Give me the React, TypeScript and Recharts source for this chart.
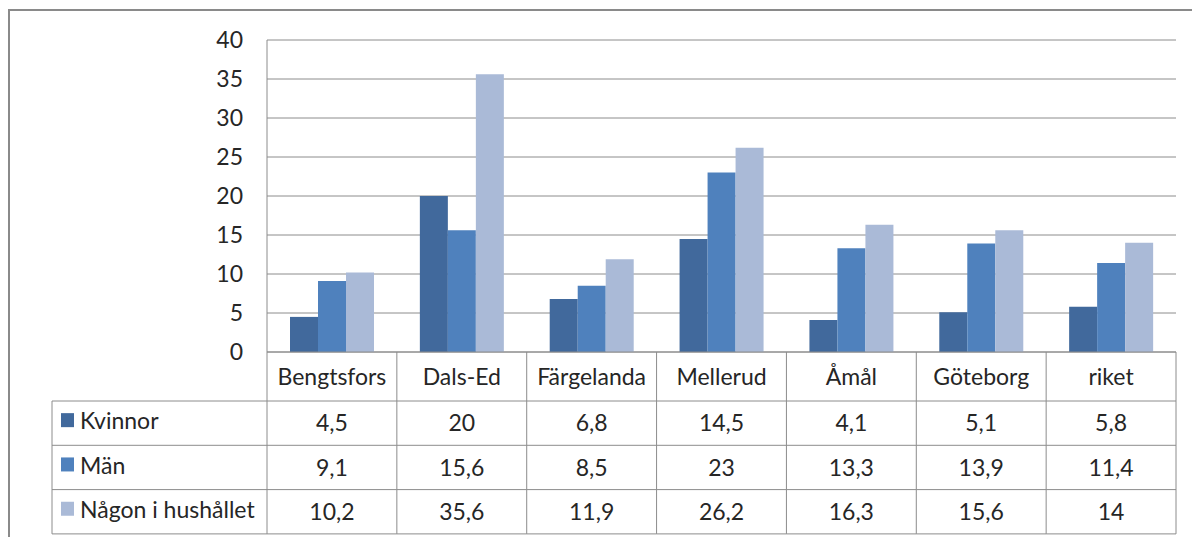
import React from 'react';
import { BarChart, Bar, XAxis, YAxis, CartesianGrid } from 'recharts';

const categories = ['Bengtsfors', 'Dals-Ed', 'Färgelanda', 'Mellerud', 'Åmål', 'Göteborg', 'riket'];
const kvinnor = [4.5, 20, 6.8, 14.5, 4.1, 5.1, 5.8];
const man = [9.1, 15.6, 8.5, 23, 13.3, 13.9, 11.4];
const nagon = [10.2, 35.6, 11.9, 26.2, 16.3, 15.6, 14];
const yTicks = [0, 5, 10, 15, 20, 25, 30, 35, 40];

const series = [
  { key: 'kvinnor', name: 'Kvinnor', color: '#41699c', values: kvinnor },
  { key: 'man', name: 'Män', color: '#4f81bd', values: man },
  { key: 'nagon', name: 'Någon i hushållet', color: '#aabad7', values: nagon },
];

const data = categories.map((c, i) => ({
  name: c,
  kvinnor: kvinnor[i],
  man: man[i],
  nagon: nagon[i],
}));

const CHART_W = 1192;
const CHART_H = 537;
const MARGIN = { top: 40, right: 16, left: 0, bottom: 0 };
const Y_AXIS_W = 267;
const X_AXIS_H = 185;
const PLOT_W = CHART_W - MARGIN.right - Y_AXIS_W;
const HEADER_H = 49;
const ROW_H = 44.3;
const LEGEND_X = 52;
const LINE = '#8c8c8c';
const TEXT = '#262626';
const FONT = 23;

const fmt = (v: number) => String(v).replace('.', ',');

const TableTick = (props: any) => {
  const { x, y, payload, index } = props;
  const cw = PLOT_W / categories.length;
  const left = x - cw / 2;
  const right = x + cw / 2;
  const bottom = y + HEADER_H + ROW_H * series.length;

  return (
    <g>
      <text x={x} y={y + HEADER_H / 2} dy="0.35em" textAnchor="middle" fill={TEXT} fontSize={FONT}>
        {payload.value}
      </text>
      {series.map((s, r) => {
        const top = y + HEADER_H + ROW_H * r;
        return (
          <g key={s.key}>
            <line x1={left} x2={right} y1={top} y2={top} stroke={LINE} />
            <text x={x} y={top + ROW_H / 2} dy="0.35em" textAnchor="middle" fill={TEXT} fontSize={FONT}>
              {fmt(s.values[index])}
            </text>
          </g>
        );
      })}
      <line x1={left} x2={right} y1={bottom} y2={bottom} stroke={LINE} />
      <line x1={right} x2={right} y1={y} y2={bottom} stroke={LINE} />
      {index === 0 && (
        <g>
          <line x1={left} x2={left} y1={y} y2={bottom} stroke={LINE} />
          <line x1={LEGEND_X} x2={LEGEND_X} y1={y + HEADER_H} y2={bottom} stroke={LINE} />
          {series.map((s, r) => {
            const top = y + HEADER_H + ROW_H * r;
            const mid = top + ROW_H / 2;
            return (
              <g key={s.key}>
                <line x1={LEGEND_X} x2={left} y1={top} y2={top} stroke={LINE} />
                <rect x={LEGEND_X + 9} y={mid - 10} width={13} height={14} fill={s.color} />
                <text x={LEGEND_X + 28} y={mid - 2} dy="0.35em" fill={TEXT} fontSize={FONT}>
                  {s.name}
                </text>
              </g>
            );
          })}
          <line x1={LEGEND_X} x2={left} y1={bottom} y2={bottom} stroke={LINE} />
        </g>
      )}
    </g>
  );
};

export default function App() {
  return (
    <div style={{ position: 'absolute', left: 0, top: 0, width: CHART_W, height: CHART_H, background: '#fff', overflow: 'hidden', fontFamily: 'Lato, sans-serif' }}>
      <div
        style={{
          position: 'absolute',
          left: 8,
          top: 9,
          width: 1400,
          height: 800,
          borderLeft: '2px solid #8a8a8a',
          borderTop: '2px solid #8a8a8a',
        }}
      />
      <div style={{ position: 'absolute', left: 0, top: 0 }}>
        <BarChart width={CHART_W} height={CHART_H} data={data} margin={MARGIN} barGap={0} barSize={28}>
          <CartesianGrid vertical={false} stroke={LINE} />
          <XAxis
            dataKey="name"
            height={X_AXIS_H}
            interval={0}
            tickSize={0}
            tickMargin={0}
            tickLine={false}
            axisLine={{ stroke: LINE }}
            tick={<TableTick />}
          />
          <YAxis
            width={Y_AXIS_W}
            domain={[0, 40]}
            ticks={yTicks}
            tickSize={0}
            tickMargin={24}
            tickLine={false}
            axisLine={{ stroke: LINE }}
            tick={{ fill: TEXT, fontSize: FONT, fontFamily: 'Lato, sans-serif' }}
          />
          {series.map(s => (
            <Bar key={s.key} dataKey={s.key} name={s.name} fill={s.color} isAnimationActive={false} />
          ))}
        </BarChart>
      </div>
    </div>
  );
}
